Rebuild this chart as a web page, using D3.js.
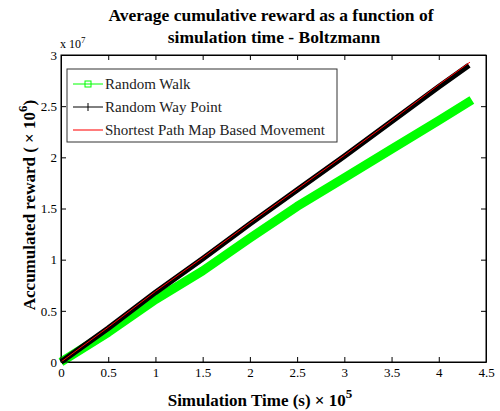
<!DOCTYPE html>
<html>
<head>
<meta charset="utf-8">
<script src="https://cdn.jsdelivr.net/npm/d3@7"></script>
<style>
  body { margin: 0; background: #fff; }
  svg { display: block; }
  svg text { font-family: "Liberation Serif", "Times New Roman", serif; }
</style>
</head>
<body>
<div id="chart"></div>
<script>
// data (x in units of 1e5 s, y in units of 1e7)
const timeWalk   = [0, 0.5, 1.0, 1.5, 2.0, 2.5, 3.0, 3.5, 4.0, 4.35];
const rewardWalk = [0, 0.29, 0.61, 0.89, 1.21, 1.52, 1.80, 2.08, 2.36, 2.56];

const timeWay   = [0, 0.5, 1.0, 1.5, 2.0, 2.5, 3.0, 3.5, 4.0, 4.32];
const rewardWay = [0, 0.33, 0.68, 1.01, 1.35, 1.68, 2.01, 2.35, 2.69, 2.90];

const timeMap   = [0, 0.5, 1.0, 1.5, 2.0, 2.5, 3.0, 3.5, 4.0, 4.33];
const rewardMap = [0, 0.34, 0.69, 1.02, 1.36, 1.69, 2.02, 2.36, 2.71, 2.93];

const xTicks = [0, 0.5, 1, 1.5, 2, 2.5, 3, 3.5, 4, 4.5];
const yTicks = [0, 0.5, 1, 1.5, 2, 2.5, 3];
const legendNames = ["Random Walk", "Random Way Point", "Shortest Path Map Based Movement"];

const svgWidth = 500, svgHeight = 411;
const margin = { top: 55, right: 14, bottom: 49, left: 61 };
const width = svgWidth - margin.left - margin.right;
const height = svgHeight - margin.top - margin.bottom;
const serif = "Liberation Serif, Times New Roman, serif";

const svg = d3.select("#chart").append("svg")
  .attr("width", svgWidth)
  .attr("height", svgHeight)
  .attr("font-family", serif);

const g = svg.append("g")
  .attr("transform", "translate(" + margin.left + "," + margin.top + ")");

const x = d3.scaleLinear().domain([0, 4.5]).range([0, width]);
const y = d3.scaleLinear().domain([0, 3]).range([height, 0]);

// axes, ticks pointing inward like matlab
const fmt = d => String(d);
const axes = [
  g.append("g")
    .attr("transform", "translate(0," + height + ")")
    .call(d3.axisBottom(x).tickValues(xTicks).tickFormat(fmt).tickSizeInner(-5).tickSizeOuter(0).tickPadding(6)),
  g.append("g")
    .call(d3.axisLeft(y).tickValues(yTicks).tickFormat(fmt).tickSizeInner(-5).tickSizeOuter(0).tickPadding(4)),
  g.append("g")
    .call(d3.axisTop(x).tickValues(xTicks).tickFormat("").tickSizeInner(-5).tickSizeOuter(0)),
  g.append("g")
    .attr("transform", "translate(" + width + ",0)")
    .call(d3.axisRight(y).tickValues(yTicks).tickFormat("").tickSizeInner(-5).tickSizeOuter(0))
];
axes.forEach(a => a.attr("font-family", serif).attr("font-size", 13));
g.selectAll(".tick text").attr("fill", "#000");
g.selectAll(".domain").attr("stroke", "#000");

// series
const line = d3.line().x(d => x(d[0])).y(d => y(d[1]));
const walk = timeWalk.map((t, i) => [t, rewardWalk[i]]);
const way = timeWay.map((t, i) => [t, rewardWay[i]]);
const map = timeMap.map((t, i) => [t, rewardMap[i]]);

g.append("path").datum(walk)
  .attr("fill", "none").attr("stroke", "#00ff00").attr("stroke-width", 9)
  .attr("stroke-linejoin", "round")
  .attr("d", line);
g.append("path").datum(way)
  .attr("fill", "none").attr("stroke", "#000").attr("stroke-width", 5.5)
  .attr("stroke-linejoin", "round")
  .attr("d", line);
g.append("path").datum(map)
  .attr("fill", "none").attr("stroke", "#ff0000").attr("stroke-width", 1)
  .attr("d", line);

// frame
g.append("rect")
  .attr("width", width).attr("height", height)
  .attr("fill", "none").attr("stroke", "#000");

// legend
const leg = g.append("g").attr("transform", "translate(6,14)");
leg.append("rect")
  .attr("width", 270).attr("height", 73)
  .attr("fill", "#fff").attr("stroke", "#333");
const legColors = ["#00ff00", "#000", "#ff5050"];
legendNames.forEach((name, i) => {
  const row = leg.append("g").attr("transform", "translate(0," + (15 + i * 23) + ")");
  row.append("line").attr("x1", 6).attr("x2", 36).attr("y1", 0).attr("y2", 0)
    .attr("stroke", legColors[i]).attr("stroke-width", i == 2 ? 1.5 : 1);
  if (i == 0) {
    row.append("rect").attr("x", 18).attr("y", -3).attr("width", 6).attr("height", 6)
      .attr("fill", "none").attr("stroke", "#00ff00");
  }
  if (i == 1) {
    row.append("line").attr("x1", 21).attr("x2", 21).attr("y1", -4).attr("y2", 4)
      .attr("stroke", "#000");
  }
  row.append("text").attr("x", 38).attr("y", 5)
    .attr("font-size", 15).attr("fill", "#222")
    .text(name);
});

// multiplier
const mult = svg.append("text")
  .attr("x", margin.left - 1).attr("y", 48)
  .attr("font-size", 12);
mult.append("tspan").text("x 10");
mult.append("tspan").attr("dy", -5).attr("font-size", 9).text("7");

// title
const title = svg.append("text")
  .attr("text-anchor", "middle")
  .attr("font-size", 17.5).attr("font-weight", "bold");
title.append("tspan").attr("x", 271).attr("y", 21).text("Average cumulative reward as a function of");
title.append("tspan").attr("x", 274).attr("y", 43).text("simulation time - Boltzmann");

// x label
const xl = svg.append("text")
  .attr("x", 260).attr("y", 406)
  .attr("text-anchor", "middle")
  .attr("font-size", 17).attr("font-weight", "bold");
xl.append("tspan").text("Simulation Time (s) \u00d7 10");
xl.append("tspan").attr("dy", -8).attr("font-size", 13).text("5");

// y label
const yl = svg.append("text")
  .attr("transform", "translate(35,205) rotate(-90)")
  .attr("text-anchor", "middle")
  .attr("font-size", 17).attr("font-weight", "bold");
yl.append("tspan").text("Accumulated reward ( \u00d7 10");
yl.append("tspan").attr("dy", -8).attr("font-size", 13).text("6");
yl.append("tspan").attr("dy", 8).text(")");
</script>
</body>
</html>
